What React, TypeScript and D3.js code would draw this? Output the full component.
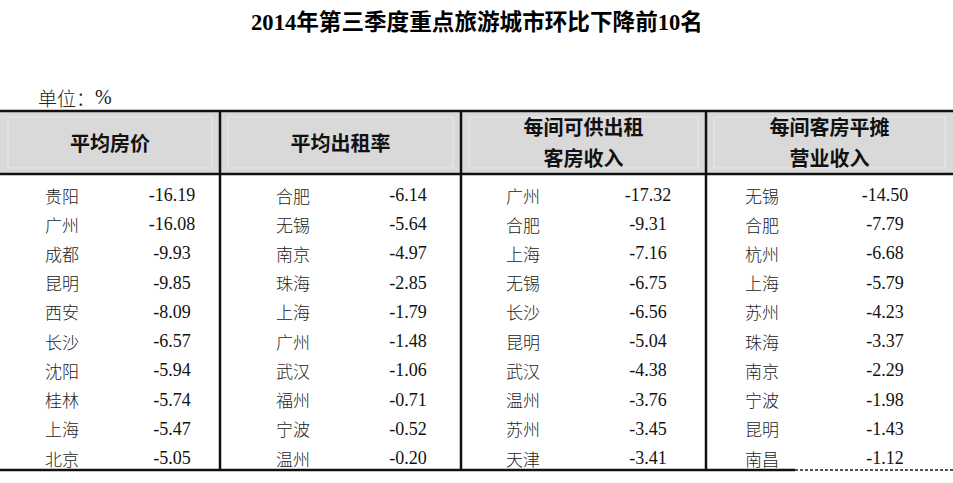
import * as d3 from 'd3'

const title = '2014年第三季度重点旅游城市环比下降前10名'
const unitLabel = '单位：'
const unitSymbol = '%'

const headers = [['平均房价'], ['平均出租率'], ['每间可供出租', '客房收入'], ['每间客房平摊', '营业收入']]

const priceCities = ['贵阳', '广州', '成都', '昆明', '西安', '长沙', '沈阳', '桂林', '上海', '北京']
const priceValues = [-16.19, -16.08, -9.93, -9.85, -8.09, -6.57, -5.94, -5.74, -5.47, -5.05]

const occupancyCities = ['合肥', '无锡', '南京', '珠海', '上海', '广州', '武汉', '福州', '宁波', '温州']
const occupancyValues = [-6.14, -5.64, -4.97, -2.85, -1.79, -1.48, -1.06, -0.71, -0.52, -0.2]

const revparCities = ['广州', '合肥', '上海', '无锡', '长沙', '昆明', '武汉', '温州', '苏州', '天津']
const revparValues = [-17.32, -9.31, -7.16, -6.75, -6.56, -5.04, -4.38, -3.76, -3.45, -3.41]

const revenueCities = ['无锡', '合肥', '杭州', '上海', '苏州', '珠海', '南京', '宁波', '昆明', '南昌']
const revenueValues = [-14.5, -7.79, -6.68, -5.79, -4.23, -3.37, -2.29, -1.98, -1.43, -1.12]

const columns = [
  { cities: priceCities, values: priceValues },
  { cities: occupancyCities, values: occupancyValues },
  { cities: revparCities, values: revparValues },
  { cities: revenueCities, values: revenueValues },
]

// layout (pixels)
const W = 953
const H = 483
const colEdges = [0, 220, 461, 706, 953]
const cityOffset = [62, 73, 62, 56]
const valueOffset = [172, 408, 648, 885].map((v, i) => v - colEdges[i])
const headTop = 111
const headBottom = 174
const tableBottom = 470

const cjk = '"Noto Sans CJK SC", sans-serif'
const serif = '"Liberation Serif", "Times New Roman", serif'

export default function App() {
  const y = d3.scaleLinear().domain([0, 9]).range([195, 458])
  // plain hyphen like the source, not d3's unicode minus
  const fmt = (v: number) => d3.format('.2f')(v).replace('\u2212', '-')

  return (
    <svg
      width={W}
      height={H}
      viewBox={`0 0 ${W} ${H}`}
      style={{ position: 'fixed', left: 0, top: 0, background: '#fff' }}
    >
      <rect x={0} y={0} width={W} height={H} fill="#fff" />
      <text
        x={477}
        y={22}
        textAnchor="middle"
        dominantBaseline="central"
        fontFamily={`"Liberation Serif", ${cjk}`}
        fontWeight="bold"
        fontSize={22.6}
        fill="#000"
      >
        {title}
      </text>
      <text x={38} y={97} dominantBaseline="central" fontFamily={cjk} fontSize={19} fontWeight={300} fill="#222">
        {unitLabel}
        <tspan fontFamily={serif} fontSize={20}>{unitSymbol}</tspan>
      </text>

      {/* header band */}
      <rect x={0} y={headTop} width={W} height={headBottom - headTop} fill="#d9d9d9" />
      {colEdges.slice(0, -1).map((x0, i) => (
        <rect
          key={`in${i}`}
          x={x0 + 8}
          y={headTop + 6}
          width={colEdges[i + 1] - x0 - 16}
          height={headBottom - headTop - 12}
          fill="none"
          stroke="#e9e9e9"
          strokeWidth={1}
        />
      ))}
      {headers.map((lines, i) => {
        const cx = (colEdges[i] + colEdges[i + 1]) / 2
        const ys = lines.length === 1 ? [142] : [126, 157]
        return lines.map((t, j) => (
          <text
            key={`h${i}${j}`}
            x={cx}
            y={ys[j]}
            textAnchor="middle"
            dominantBaseline="central"
            fontFamily={cjk}
            fontWeight="bold"
            fontSize={20}
            fill="#111"
          >
            {t}
          </text>
        ))
      })}

      {/* borders */}
      <line x1={0} x2={W} y1={headTop} y2={headTop} stroke="#111" strokeWidth={2.5} />
      <line x1={0} x2={W} y1={headBottom} y2={headBottom} stroke="#111" strokeWidth={2.5} />
      <line x1={0} x2={795} y1={tableBottom} y2={tableBottom} stroke="#111" strokeWidth={2.5} />
      <line x1={795} x2={W} y1={tableBottom} y2={tableBottom} stroke="#555" strokeWidth={2} strokeDasharray="3 2" />
      {colEdges.slice(1, -1).map((x) => (
        <line key={`v${x}`} x1={x} x2={x} y1={headTop} y2={tableBottom} stroke="#111" strokeWidth={2.5} />
      ))}

      {/* body */}
      {columns.map((col, i) => (
        <g key={`c${i}`}>
          {col.cities.map((c, r) => (
            <text
              key={`n${r}`}
              x={colEdges[i] + cityOffset[i]}
              y={y(r)}
              textAnchor="middle"
              dominantBaseline="central"
              fontFamily={cjk}
              fontWeight={300}
              fontSize={17}
              fill="#222"
            >
              {c}
            </text>
          ))}
          {col.values.map((v, r) => (
            <text
              key={`v${r}`}
              x={colEdges[i] + valueOffset[i]}
              y={y(r)}
              textAnchor="middle"
              dominantBaseline="central"
              fontFamily={serif}
              fontSize={18}
              fill="#111"
            >
              {fmt(v)}
            </text>
          ))}
        </g>
      ))}
    </svg>
  )
}
